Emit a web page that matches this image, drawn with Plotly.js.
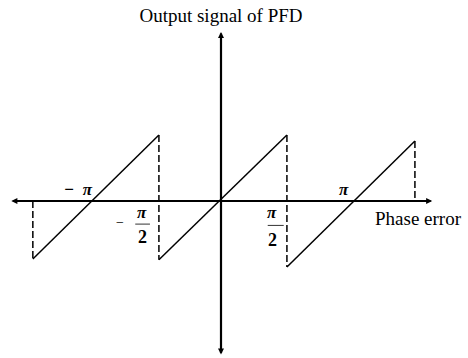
<!DOCTYPE html>
<html>
<head>
<meta charset="utf-8">
<script src="https://cdn.plot.ly/plotly-3.0.1.min.js"></script>
<style>
  html, body { margin: 0; padding: 0; background: #fff; }
  #chart { width: 468px; height: 358px; }
</style>
</head>
<body>
<div id="chart"></div>
<script>
// Sawtooth transfer curve of a phase-frequency detector.
// Horizontal unit: roughly pi/2 of phase error; vertical unit: normalised output.
const rampBreaks = [-2.94, -0.97, 1.03, 3.03];   // x where each ramp starts / ends
const rampLows   = [-0.88, -0.89, -1.00];        // output at the start of each ramp
const rampHighs  = [1.00, 1.00, 0.91];           // output at the end of each ramp

// Dashed drop lines at the ramp ends
const dropX    = [-2.94, -0.97, 1.03, 3.03];
const dropTop  = [0, 1.00, 1.00, 0.91];
const dropBot  = [-0.88, -0.89, -1.00, 0];

// Axis extents
const xAxisSpan = [-3.30, 3.30];
const yAxisSpan = [-2.35, 2.56];

const titleText = 'Output signal of PFD';
const xLabel = 'Phase error';

const serif = 'Liberation Serif, Times New Roman, serif';

// Ramp polyline, segments separated by gaps
const rx = [], ry = [];
for (let i = 0; i < rampLows.length; i++) {
  rx.push(rampBreaks[i], rampBreaks[i + 1], null);
  ry.push(rampLows[i], rampHighs[i], null);
}
const dx = [], dy = [];
for (let i = 0; i < dropX.length; i++) {
  dx.push(dropX[i], dropX[i], null);
  dy.push(dropTop[i], dropBot[i], null);
}

const traces = [
  { x: dx, y: dy, mode: 'lines', type: 'scatter', hoverinfo: 'skip',
    line: { color: '#000', width: 1.5, dash: '7px,3px' } },
  { x: rx, y: ry, mode: 'lines', type: 'scatter', hoverinfo: 'skip',
    line: { color: '#000', width: 1.5 } }
];

function axisArrow(x0, y0, x1, y1) {
  return { x: x1, y: y1, ax: x0, ay: y0, xref: 'x', yref: 'y', axref: 'x', ayref: 'y',
    showarrow: true, arrowhead: 2, arrowsize: 0.55, arrowwidth: 2.2, arrowcolor: '#000',
    startarrowhead: 2, startarrowsize: 0.55, arrowside: 'end+start', text: '' };
}

function label(text, x, y, size) {
  return { x: x, y: y, xref: 'x', yref: 'y', text: text, showarrow: false,
    xanchor: 'center', yanchor: 'middle',
    font: { family: serif, size: size, color: '#000' } };
}

const annotations = [
  axisArrow(xAxisSpan[0], 0, xAxisSpan[1], 0),
  axisArrow(0, yAxisSpan[0], 0, yAxisSpan[1]),
  label('<b><i>−  π</i></b>', -2.23, 0.18, 17),
  label('<b><i>π</i></b>', 1.92, 0.18, 17),
  label('−', -1.58, -0.33, 14),
  label('<b><i>π</i></b>', -1.23, -0.17, 17),
  label('<b>2</b>', -1.22, -0.55, 18),
  label('<b><i>π</i></b>', 0.80, -0.18, 17),
  label('<b>2</b>', 0.80, -0.59, 18),
  label(xLabel, 3.09, -0.26, 19)
];

const shapes = [
  { type: 'line', xref: 'x', yref: 'y', x0: -1.34, x1: -1.11, y0: -0.35, y1: -0.35,
    line: { color: '#333', width: 1 } },
  { type: 'line', xref: 'x', yref: 'y', x0: 0.73, x1: 0.98, y0: -0.37, y1: -0.37,
    line: { color: '#333', width: 1 } }
];

const layout = {
  width: 468, height: 358,
  margin: { l: 0, r: 0, t: 0, b: 0 },
  paper_bgcolor: '#fff', plot_bgcolor: '#fff',
  showlegend: false,
  title: { text: titleText, x: 221 / 468, xanchor: 'center', y: 1 - 15 / 358, yanchor: 'middle',
    font: { family: serif, size: 19, color: '#000' } },
  xaxis: { range: [-221 / 64, 247 / 64], visible: false, fixedrange: true },
  yaxis: { range: [(201 - 358) / 66, 201 / 66], visible: false, fixedrange: true },
  annotations: annotations,
  shapes: shapes
};

Plotly.newPlot('chart', traces, layout, { displayModeBar: false, staticPlot: true });
</script>
</body>
</html>
